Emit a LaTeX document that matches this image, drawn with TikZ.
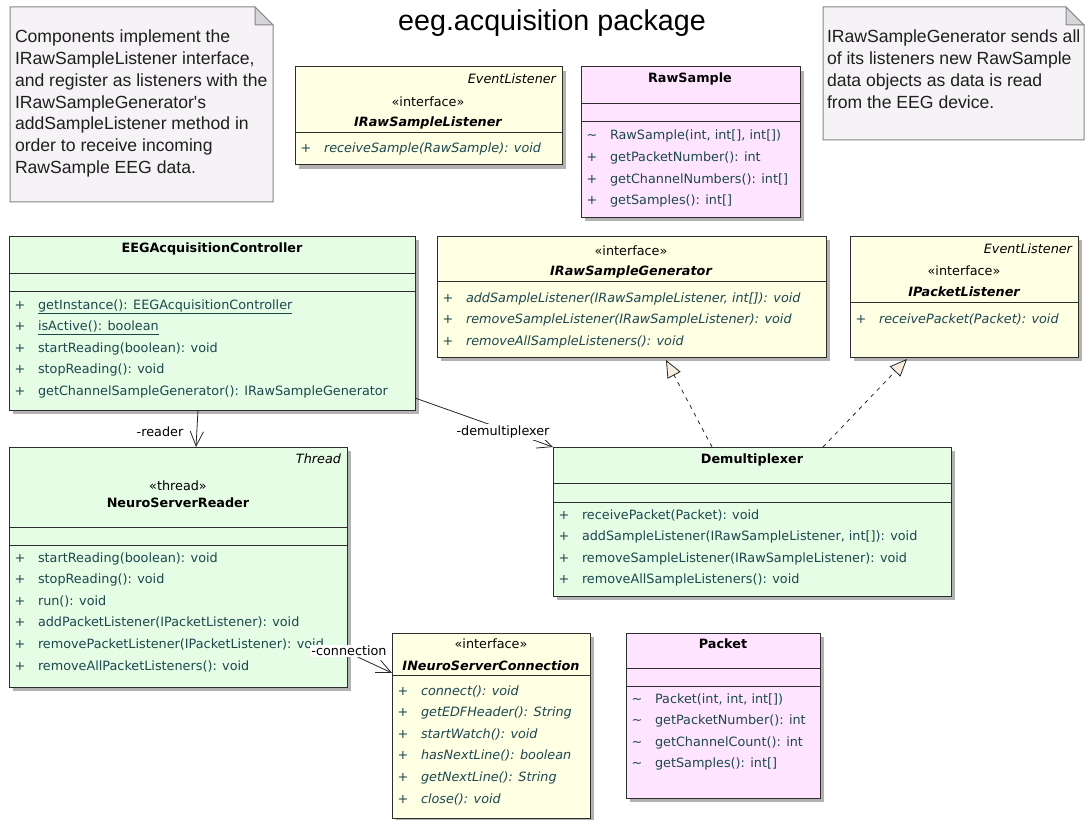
\documentclass[tikz,border=0pt]{standalone}
\usepackage{fontspec}
\setmainfont{DejaVu Sans}
\newfontfamily\notefont{Liberation Sans}
\usetikzlibrary{arrows.meta,shadows,fit,calc}

\definecolor{boxline}{RGB}{45,45,45}
\definecolor{classgreen}{RGB}{229,252,229}
\definecolor{ifaceyellow}{RGB}{255,255,228}
\definecolor{datapink}{RGB}{255,228,255}
\definecolor{notefill}{RGB}{246,243,246}
\definecolor{noteline}{RGB}{135,135,135}
\definecolor{notefold}{RGB}{214,214,218}
\definecolor{shadowgray}{RGB}{178,178,178}
\definecolor{membertext}{RGB}{28,72,78}
\definecolor{trifill}{RGB}{250,238,225}

\newcommand\memberfont{\fontsize{9.6}{11}\selectfont}

% one row per member: visibility marker, then the signature
\newcommand\memberrows[5]{%
  \foreach \v/\m [count=\i] in {#5} {
    \node[marker] (#1-v\i) at ({#2+11},{#3+21.6*(\i-1)}) {\v};
    \node[#4] (#1-m\i) at ({#2+29},{#3+21.6*(\i-1)}) {\m};
  }}

\begin{document}
\begin{tikzpicture}[x=0.75pt, y=-0.75pt,
  every node/.style={inner sep=0pt, outer sep=0pt},
  classbox/.style={draw=boxline, line width=0.75pt, inner sep=0pt,
    drop shadow={shadow xshift=3pt, shadow yshift=-3pt, fill=shadowgray, opacity=1}},
  sep/.style={draw=boxline, line width=0.75pt},
  member/.style={anchor=base west, font=\memberfont, text=membertext},
  imember/.style={anchor=base west, font=\memberfont\itshape, text=membertext},
  marker/.style={anchor=base, font=\memberfont, text=membertext},
  cname/.style={anchor=base, font=\memberfont\bfseries},
  iname/.style={anchor=base, font=\memberfont\bfseries\itshape},
  stereo/.style={anchor=base, font=\memberfont},
  super/.style={anchor=base east, font=\memberfont\itshape},
  notebody/.style={fill=notefill, draw=noteline, line width=0.75pt},
  notetext/.style={anchor=base west, font=\notefont\fontsize{13.2}{16}\selectfont, text=black!88},
  rolelabel/.style={font=\memberfont, text=black},
  assoc/.style={draw=black!85, line width=0.6pt, -{Straight Barb[length=11pt,width=10pt]}},
  realize/.style={draw=black!85, line width=0.6pt, dash pattern=on 3pt off 3.5pt,
    -{Triangle[length=13pt,width=11pt,fill=trifill]}}
]
\useasboundingbox (0,0) rectangle (1085,820);
\fill[white] (0,0) rectangle (1085,820);

% ---------- title ----------
\node[anchor=base, font=\notefont\fontsize{21.5}{24}\selectfont] (title) at (552,31) {eeg.acquisition package};

% ---------- notes ----------
\path[notebody] (10,7) -- (255,7) -- (273,25) -- (273,202) -- (10,202) -- cycle;
\path[notebody, fill=notefold] (255,7) -- (255,25) -- (273,25) -- cycle;
\foreach \t [count=\i] in {Components implement the, {IRawSampleListener interface,},
  and register as listeners with the, IRawSampleGenerator's,
  addSampleListener method in, order to receive incoming, RawSample EEG data.}
  \node[notetext] (noteA-\i) at (15,{43+21.7*(\i-1)}) {\t};

\path[notebody] (823,7) -- (1066,7) -- (1084,25) -- (1084,140) -- (823,140) -- cycle;
\path[notebody, fill=notefold] (1066,7) -- (1066,25) -- (1084,25) -- cycle;
\foreach \t [count=\i] in {IRawSampleGenerator sends all, of its listeners new RawSample,
  data objects as data is read, from the EEG device.}
  \node[notetext] (noteB-\i) at (827,{43+21.7*(\i-1)}) {\t};

% ---------- IRawSampleListener ----------
\node[classbox, fill=ifaceyellow, fit={(295,67) (562,165)}] (irsl) {};
\node[super] (irsl-super) at (556,84) {EventListener};
\node[stereo] (irsl-st) at (428,107) {«interface»};
\node[iname] (irsl-name) at (428,127) {IRawSampleListener};
\draw[sep] (irsl.west |- 0,133) -- (irsl.east |- 0,133);
\memberrows{irsl}{295}{153}{imember}{+/{receiveSample(RawSample): void}}

% ---------- RawSample ----------
\node[classbox, fill=datapink, fit={(581,67) (800,217)}] (raw) {};
\node[cname] (raw-name) at (690,83) {RawSample};
\draw[sep] (raw.west |- 0,104) -- (raw.east |- 0,104);
\draw[sep] (raw.west |- 0,122) -- (raw.east |- 0,122);
\memberrows{raw}{581}{140}{member}{\textasciitilde/{RawSample(int, int[], int[])},
  +/{getPacketNumber(): int}, +/{getChannelNumbers(): int[]}, +/{getSamples(): int[]}}

% ---------- EEGAcquisitionController ----------
\node[classbox, fill=classgreen, fit={(9,236) (415,410)}] (eeg) {};
\node[cname] (eeg-name) at (212,252) {EEGAcquisitionController};
\draw[sep] (eeg.west |- 0,273) -- (eeg.east |- 0,273);
\draw[sep] (eeg.west |- 0,291) -- (eeg.east |- 0,291);
\memberrows{eeg}{9}{309}{member}{+/{\underline{getInstance(): EEGAcquisitionController}},
  +/{\underline{isActive(): boolean}}, +/{startReading(boolean): void},
  +/{stopReading(): void}, +/{getChannelSampleGenerator(): IRawSampleGenerator}}

% ---------- IRawSampleGenerator ----------
\node[classbox, fill=ifaceyellow, fit={(437,236) (826,357)}] (irsg) {};
\node[stereo] (irsg-st) at (631,255) {«interface»};
\node[iname] (irsg-name) at (631,275) {IRawSampleGenerator};
\draw[sep] (irsg.west |- 0,281) -- (irsg.east |- 0,281);
\memberrows{irsg}{437}{302}{imember}{+/{addSampleListener(IRawSampleListener, int[]): void},
  +/{removeSampleListener(IRawSampleListener): void}, +/{removeAllSampleListeners(): void}}

% ---------- IPacketListener ----------
\node[classbox, fill=ifaceyellow, fit={(850,236) (1078,357)}] (ipl) {};
\node[super] (ipl-super) at (1072,253) {EventListener};
\node[stereo] (ipl-st) at (964,275) {«interface»};
\node[iname] (ipl-name) at (964,296) {IPacketListener};
\draw[sep] (ipl.west |- 0,302) -- (ipl.east |- 0,302);
\memberrows{ipl}{850}{323}{imember}{+/{receivePacket(Packet): void}}

% ---------- NeuroServerReader ----------
\node[classbox, fill=classgreen, fit={(9,447) (347,687)}] (nsr) {};
\node[super] (nsr-super) at (341,463) {Thread};
\node[stereo] (nsr-st) at (178,490) {«thread»};
\node[cname] (nsr-name) at (178,507) {NeuroServerReader};
\draw[sep] (nsr.west |- 0,527) -- (nsr.east |- 0,527);
\draw[sep] (nsr.west |- 0,545) -- (nsr.east |- 0,545);
\memberrows{nsr}{9}{562}{member}{+/{startReading(boolean): void}, +/{stopReading(): void},
  +/{run(): void}, +/{addPacketListener(IPacketListener): void},
  +/{removePacketListener(IPacketListener): void}, +/{removeAllPacketListeners(): void}}

% ---------- Demultiplexer ----------
\node[classbox, fill=classgreen, fit={(553,447) (951,596)}] (demux) {};
\node[cname] (demux-name) at (752,463) {Demultiplexer};
\draw[sep] (demux.west |- 0,483) -- (demux.east |- 0,483);
\draw[sep] (demux.west |- 0,502) -- (demux.east |- 0,502);
\memberrows{demux}{553}{519}{member}{+/{receivePacket(Packet): void},
  +/{addSampleListener(IRawSampleListener, int[]): void},
  +/{removeSampleListener(IRawSampleListener): void}, +/{removeAllSampleListeners(): void}}

% ---------- INeuroServerConnection ----------
\node[classbox, fill=ifaceyellow, fit={(392,633) (590,818)}] (insc) {};
\node[stereo] (insc-st) at (491,648) {«interface»};
\node[iname] (insc-name) at (491,670) {INeuroServerConnection};
\draw[sep] (insc.west |- 0,675) -- (insc.east |- 0,675);
\memberrows{insc}{392}{695}{imember}{+/{connect(): void}, +/{getEDFHeader(): String},
  +/{startWatch(): void}, +/{hasNextLine(): boolean}, +/{getNextLine(): String}, +/{close(): void}}

% ---------- Packet ----------
\node[classbox, fill=datapink, fit={(626,633) (820,798)}] (packet) {};
\node[cname] (packet-name) at (723,648) {Packet};
\draw[sep] (packet.west |- 0,668) -- (packet.east |- 0,668);
\draw[sep] (packet.west |- 0,686) -- (packet.east |- 0,686);
\memberrows{packet}{626}{703}{member}{\textasciitilde/{Packet(int, int, int[])},
  \textasciitilde/{getPacketNumber(): int}, \textasciitilde/{getChannelCount(): int},
  \textasciitilde/{getSamples(): int[]}}

% ---------- associations ----------
\draw[assoc] (eeg.south -| 198,0) -- (nsr.north -| 196,0);
\node[rolelabel] (lab-reader) at (160,432) {-reader};

\draw[assoc] (eeg.east |- 0,398) -- (demux.north west);
\node[rolelabel, fill=white, inner sep=1pt] (lab-demux) at (503,432) {-demultiplexer};

\draw[assoc] (nsr.east |- 0,652) -- (insc.west |- 0,673);
\node[rolelabel, fill=white, inner sep=1pt] (lab-conn) at (349,651) {-connection};

% ---------- realizations ----------
\draw[realize] (demux.north -| 712,0) -- ($(irsg.south -| 666,0)+(0,3)$);
\draw[realize] (demux.north -| 823,0) -- ($(ipl.south -| 907,0)+(0,2)$);
\end{tikzpicture}
\end{document}
